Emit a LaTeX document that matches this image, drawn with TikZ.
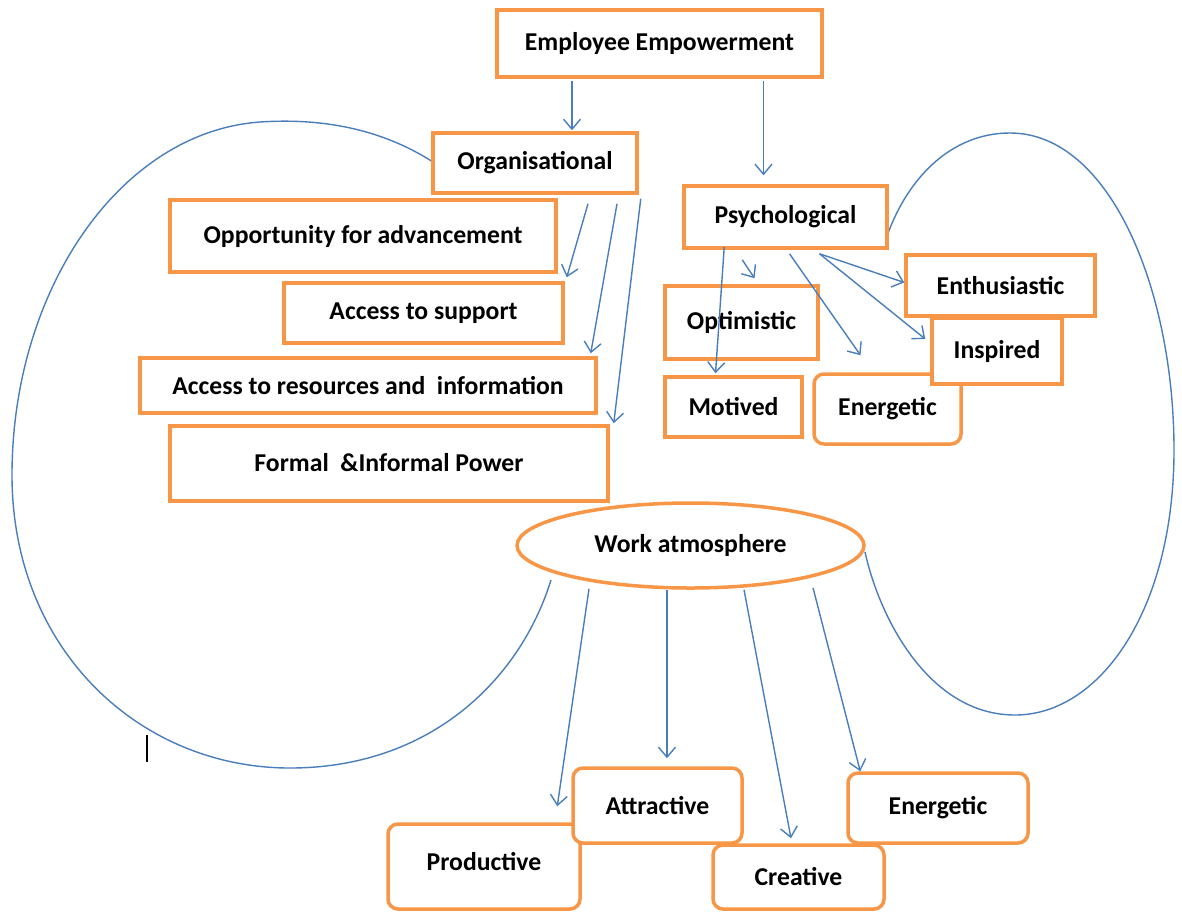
\documentclass[tikz,border=0pt]{standalone}
\usepackage{fontspec}
\setmainfont{Carlito}
\usetikzlibrary{shapes.geometric,arrows.meta,calc}
\definecolor{boxor}{HTML}{F79646}
\definecolor{lnblue}{HTML}{4A7EBB}
\begin{document}
\begin{tikzpicture}[x=1pt,y=-1pt,
 box/.style={draw=boxor, line width=3.5pt, fill=white, inner sep=0pt, text=black,
   font=\bfseries\fontsize{25.7}{30}\selectfont},
 rbox/.style={box, rounded corners=10pt},
 ebox/.style={box, ellipse},
 arr/.style={draw=lnblue, line width=1.4pt, -{Straight Barb[length=10pt,width=17pt]}},
 curve/.style={draw=lnblue, line width=1.4pt}]
\useasboundingbox (0,0) rectangle (1182,911);
% big enclosing curves
\coordinate (lstart) at (433,162);
\coordinate (rstart) at (885,242);
\draw[curve] (lstart) .. controls (380,128) and (320,118) .. (260,122)
  .. controls (120,132) and (12,290) .. (12,475)
  .. controls (12,650) and (140,768) .. (290,768)
  .. controls (430,768) and (520,680) .. (551,580);
\draw[curve] (rstart) .. controls (905,180) and (950,133) .. (1010,133)
  .. controls (1110,133) and (1174,290) .. (1174,450)
  .. controls (1174,610) and (1100,715) .. (1015,715)
  .. controls (930,715) and (880,620) .. (865,552);
% cursor mark
\coordinate (barA) at (147,735);
\coordinate (barB) at (147,762);
\draw[black, line width=2.5pt] (barA) -- (barB);
% nodes
\node[box, minimum width=325pt, minimum height=67pt] (ee) at (659.5,43.5) {Employee Empowerment};
\node[box, minimum width=204pt, minimum height=60pt] (org) at (535,163) {Organisational};
\node[box, minimum width=386pt, minimum height=72pt] (opp) at (363,236) {Opportunity for advancement};
\node[box, minimum width=279pt, minimum height=60pt] (sup) at (423.5,313) {Access to support};
\node[box, minimum width=456pt, minimum height=55pt] (res) at (368,385.5) {Access to resources and\ \ information};
\node[box, minimum width=438pt, minimum height=75pt] (pow) at (389,463.5) {\raisebox{3pt}{Formal \ \&Informal Power}};
\node[box, minimum width=203pt, minimum height=62pt] (psy) at (785.5,217) {Psychological};
\node[box, minimum width=153pt, minimum height=73pt] (opt) at (741.5,322.5) {Optimistic};
\node[box, minimum width=137pt, minimum height=60pt] (mot) at (733.5,407) {Motived};
\node[rbox, minimum width=147pt, minimum height=70pt] (en1) at (887.5,409) {Energetic};
\node[box, minimum width=130pt, minimum height=66pt] (ins) at (997,351) {Inspired};
\node[box, minimum width=189pt, minimum height=61pt] (ent) at (1000.5,285.5) {Enthusiastic};
\node[ebox, minimum width=347pt, minimum height=85pt] (wa) at (690.5,545.5) {Work atmosphere};
\node[rbox, minimum width=192pt, minimum height=85pt] (pro) at (484,866.5) {\raisebox{10pt}{Productive}};
\node[rbox, minimum width=169pt, minimum height=75pt] (att) at (657.5,805.5) {Attractive};
\node[rbox, minimum width=171pt, minimum height=64pt] (cre) at (798.5,877) {Creative};
\node[rbox, minimum width=180pt, minimum height=70pt] (en2) at (938,808) {Energetic};
% connectors
\draw[arr] ($(ee.south)+(-87.5,2)$) -- ($(org.north)+(37,-1)$);
\draw[arr] ($(ee.south)+(104,2)$) -- ($(psy.north)+(-22,-9)$);
\draw[arr] ($(org.south)+(53,9)$) -- ($(sup.north east)+(2,-4)$);
\draw[arr] ($(org.south)+(82,9)$) -- ($(res.north east)+(-7,-3)$);
\draw[arr] ($(org.south east)+(2,4)$) -- ($(pow.north east)+(4,-1)$);
\draw[arr] ($(psy.south west)+(42,-3)$) -- ($(mot.north)+(-18,-2)$);
\draw[arr] ($(psy.south west)+(60,10)$) -- ($(opt.north)+(13,-6)$);
\draw[arr] ($(psy.south)+(4,4)$) -- ($(en1.north)+(-27,-17)$);
\draw[arr] ($(psy.south)+(34,4)$) -- ($(ent.west)+(0,-3)$);
\draw[arr] ($(psy.south)+(34,4)$) -- ($(ins.west)+(-5,-12)$);
\draw[arr] ($(wa.south)+(-101.5,-1)$) -- ($(pro.north west)+(171,-16)$);
\draw[arr] ($(wa.south)+(-23.5,0)$) -- ($(att.north)+(9.5,-8)$);
\draw[arr] ($(wa.south)+(53.5,0)$) -- ($(cre.north)+(-7.5,-5)$);
\draw[arr] ($(wa.south)+(122.5,-2)$) -- ($(en2.north west)+(14,0)$);
\end{tikzpicture}
\end{document}
